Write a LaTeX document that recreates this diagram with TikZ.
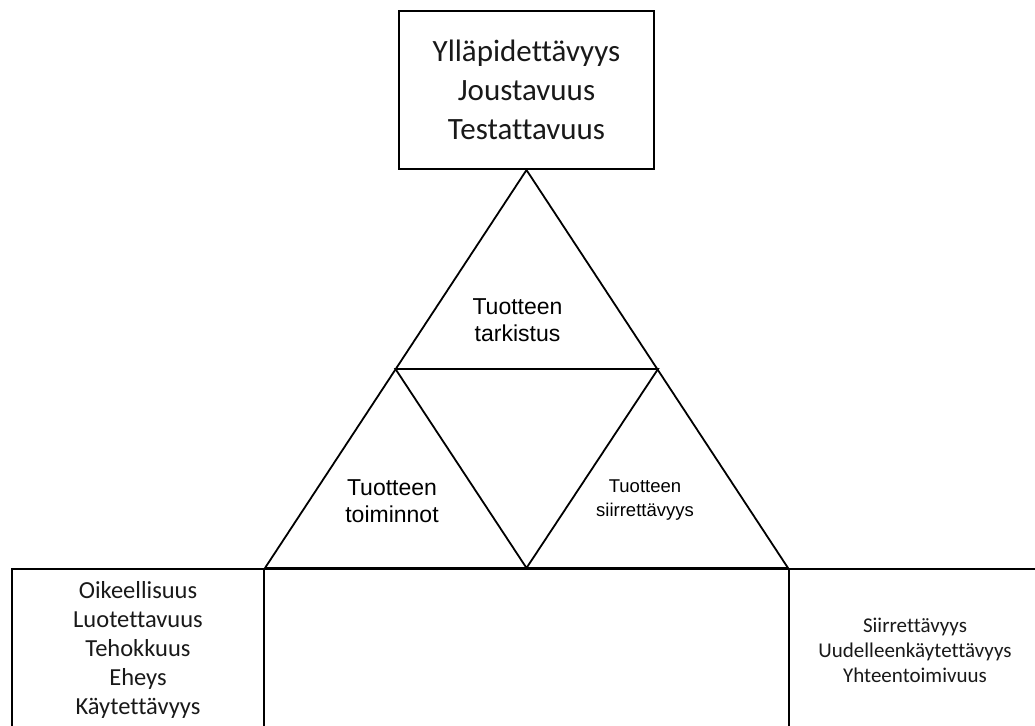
\documentclass[tikz,border=0pt]{standalone}
\usepackage{fontspec}
\setmainfont[Ligatures=NoCommon]{Carlito}
\newfontfamily\arialfont{Liberation Sans}
\begin{document}
\begin{tikzpicture}[x=1pt,y=-1pt,
  qbox/.style={draw=black,line width=2pt,inner sep=0pt,align=center,text=black!90},
  tritext/.style={inner sep=0pt,align=center,font=\arialfont\fontsize{23}{27}\selectfont},
  edge/.style={draw=black,line width=1.8pt,line join=miter}]
\useasboundingbox (0,0) rectangle (1035,725);
\clip (0,0) rectangle (1035,725);
\fill[white] (0,0) rectangle (1035,725);

% quality boxes
\node[qbox,minimum width=255pt,minimum height=158pt,font=\fontsize{31}{39}\selectfont]
  (top) at (526.5,90) {Ylläpidettävyys\\Joustavuus\\Testattavuus};
\node[qbox,minimum width=252pt,minimum height=162pt,font=\fontsize{24.5}{29}\selectfont]
  (left) at (138,650) {Oikeellisuus\\Luotettavuus\\Tehokkuus\\Eheys\\Käytettävyys};
\node[qbox,minimum width=252pt,minimum height=162pt,font=\fontsize{21}{25}\selectfont]
  (right) at (915,650) {Siirrettävyys\\Uudelleenkäytettävyys\\Yhteentoimivuus};
\node[qbox,minimum width=525pt,minimum height=162pt] (mid) at (526.5,650) {};

% triangle corners
\coordinate (apex) at (top.south);
\coordinate (bl) at (left.north east);
\coordinate (br) at (right.north west);
\coordinate (ml) at (395.5,369);
\coordinate (mr) at (658,369);
\coordinate (mb) at (mid.north);

\draw[edge] (apex) -- (bl) -- (br) -- cycle;
\draw[edge] (ml) -- (mr) -- (mb) -- cycle;

% triangle labels
\node[tritext] (check) at (517.5,320) {Tuotteen\\tarkistus};
\node[tritext] (oper) at (392,501) {Tuotteen\\toiminnot};
\node[tritext,font=\arialfont\fontsize{18.5}{24}\selectfont] (trans) at (645,500) {Tuotteen\\siirrettävyys};
\end{tikzpicture}
\end{document}
